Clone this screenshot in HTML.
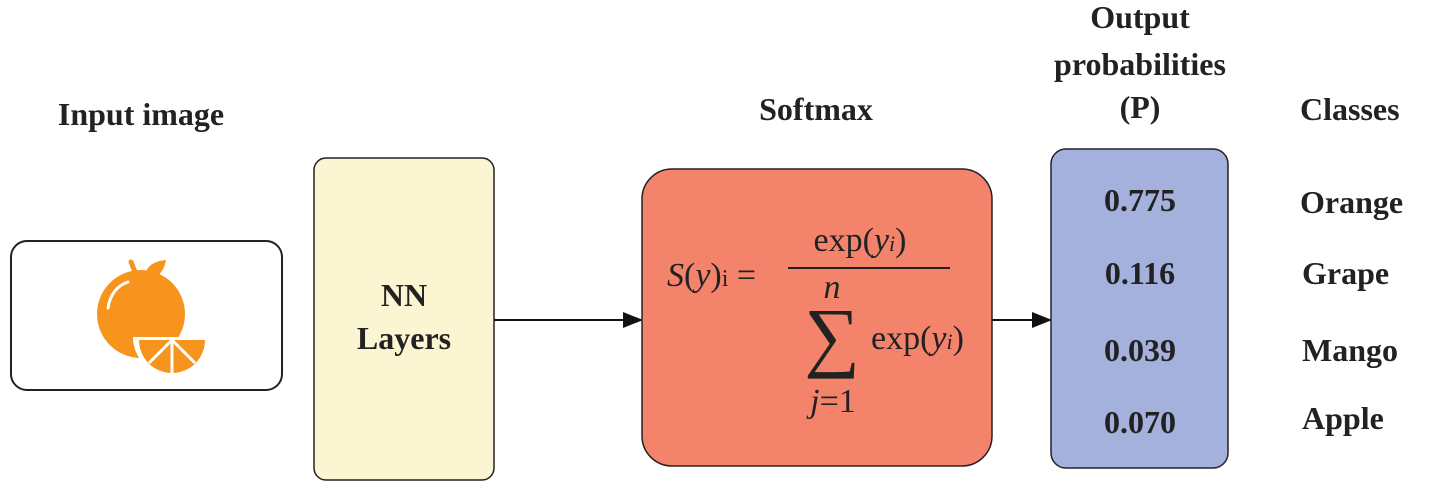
<!DOCTYPE html>
<html><head><meta charset="utf-8"><style>
html,body{margin:0;padding:0;background:#fff;}
svg{display:block;font-family:"Liberation Serif",serif;}
.t{font-weight:bold;font-size:32px;fill:#222;}
</style></head><body>
<svg width="1437" height="482" viewBox="0 0 1437 482">
<defs><marker id="ah" markerWidth="20" markerHeight="16" refX="18" refY="8" orient="auto" markerUnits="userSpaceOnUse"><path d="M0,0 L20,8 L0,16 Z" fill="#111"/></marker></defs>

<text class="t" x="141" y="125" text-anchor="middle">Input image</text>
<rect x="11" y="241" width="271" height="149" rx="16" fill="#fff" stroke="#222" stroke-width="2"/>
<g>
<path d="M131,262 L137,277" stroke="#f7941d" stroke-width="5" stroke-linecap="round"/>
<path d="M144,280 C145,266 154,261 166,260 C164,274 154,280 144,280 Z" fill="#f7941d"/>
<circle cx="141" cy="314" r="44" fill="#f7941d"/>
<path d="M108,308 C110,294 118,285 128,282" stroke="#fff" stroke-width="3" fill="none" stroke-linecap="round"/>
<path d="M133,337 L211,337 A39,39 0 0 1 133,337 Z" fill="#fff"/>
<path d="M139,340 L205,340 A33,33 0 0 1 139,340 Z" fill="#f7941d"/>
<path d="M172,340 L172,373 M172,340 L149,363 M172,340 L195,363" stroke="#fff" stroke-width="3"/>
</g>

<rect x="314" y="158" width="180" height="322" rx="12" fill="#fbf5d2" stroke="#222" stroke-width="1.5"/>
<text class="t" x="404" y="306" text-anchor="middle">NN</text>
<text class="t" x="404" y="349" text-anchor="middle">Layers</text>

<line x1="494" y1="320" x2="641" y2="320" stroke="#111" stroke-width="2" marker-end="url(#ah)"/>

<text class="t" x="816" y="120" text-anchor="middle">Softmax</text>
<rect x="642" y="169" width="350" height="297" rx="30" fill="#f4836c" stroke="#222" stroke-width="1.5"/>
<g fill="#222" font-size="34">
<text x="667" y="286"><tspan font-style="italic">S</tspan>(<tspan font-style="italic">y</tspan>)<tspan font-size="24">i</tspan> =</text>
<text x="860" y="251" text-anchor="middle">exp(<tspan font-style="italic">y</tspan><tspan font-style="italic" font-size="22">i</tspan>)</text>
<line x1="788" y1="268" x2="950" y2="268" stroke="#222" stroke-width="2"/>
<text x="832" y="298" font-style="italic" text-anchor="middle">n</text>
<text x="832" y="362" font-size="78" text-anchor="middle">∑</text>
<text x="871" y="349">exp(<tspan font-style="italic">y</tspan><tspan font-style="italic" font-size="22">i</tspan>)</text>
<text x="833" y="412" text-anchor="middle"><tspan font-style="italic">j</tspan>=1</text>
</g>

<line x1="992" y1="320" x2="1050" y2="320" stroke="#111" stroke-width="2" marker-end="url(#ah)"/>

<text class="t" x="1140" y="28" text-anchor="middle">Output</text>
<text class="t" x="1140" y="75" text-anchor="middle">probabilities</text>
<text class="t" x="1140" y="118" text-anchor="middle">(P)</text>
<rect x="1051" y="149" width="177" height="319" rx="15" fill="#a3b1dc" stroke="#222" stroke-width="1.5"/>
<text class="t" x="1140" y="211" text-anchor="middle">0.775</text>
<text class="t" x="1140" y="284" text-anchor="middle">0.116</text>
<text class="t" x="1140" y="361" text-anchor="middle">0.039</text>
<text class="t" x="1140" y="433" text-anchor="middle">0.070</text>

<text class="t" x="1300" y="120">Classes</text>
<text class="t" x="1300" y="213">Orange</text>
<text class="t" x="1302" y="284">Grape</text>
<text class="t" x="1302" y="361">Mango</text>
<text class="t" x="1302" y="429">Apple</text>
</svg>
</body></html>
